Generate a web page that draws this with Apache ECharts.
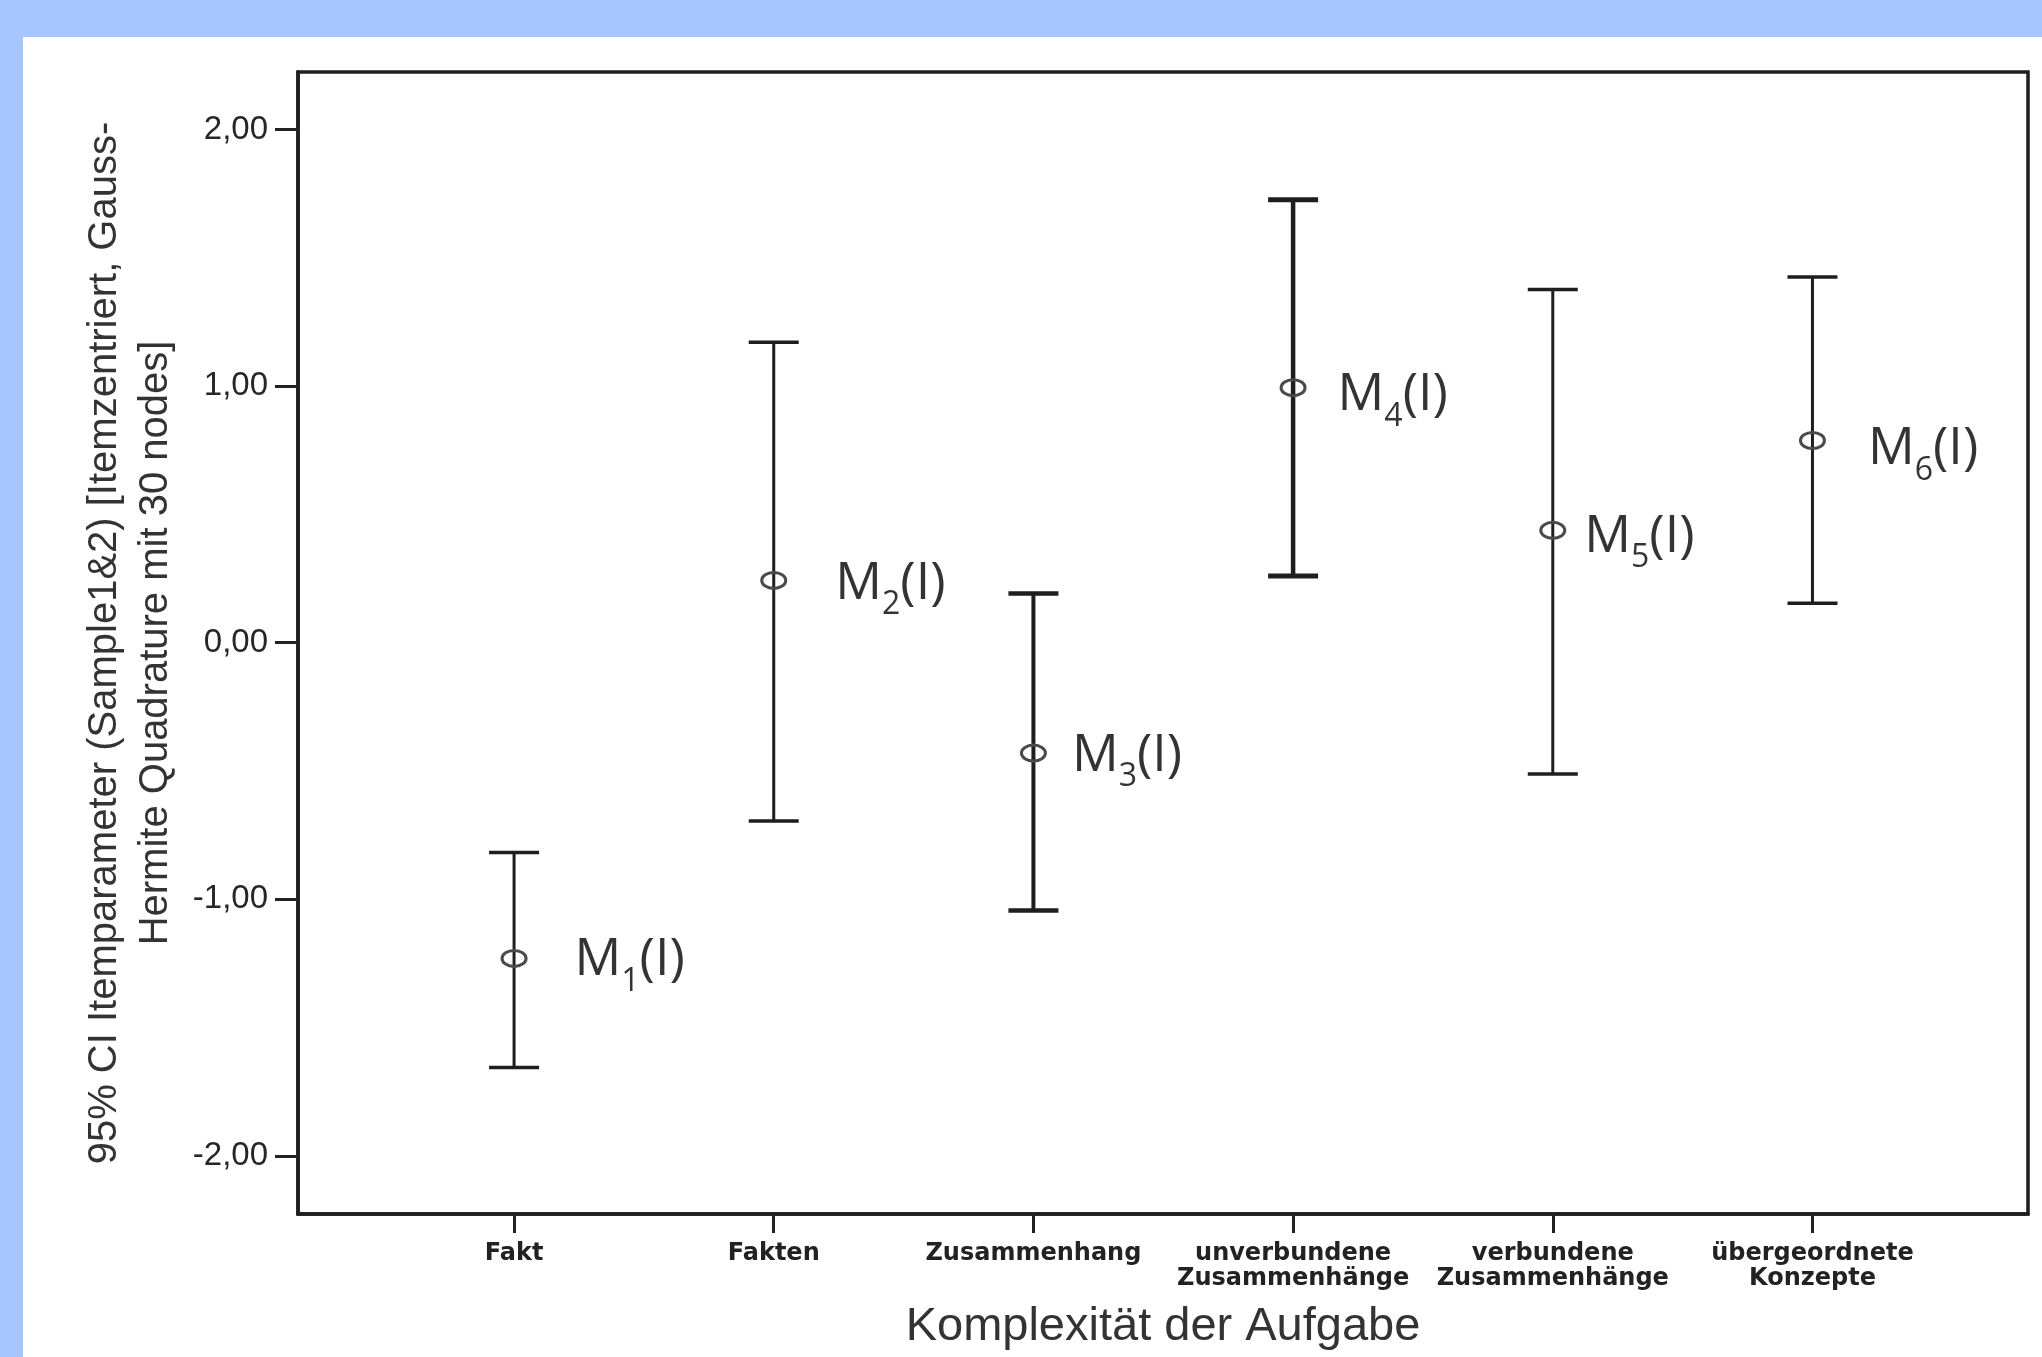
<!DOCTYPE html>
<html>
<head>
<meta charset="utf-8">
<script src="https://cdn.jsdelivr.net/npm/echarts@6/dist/echarts.min.js"></script>
<style>
html,body{margin:0;padding:0;background:#a6c7fd;width:2042px;height:1357px;overflow:hidden;}
#panel{position:absolute;left:23px;top:37px;right:0;bottom:0;background:#ffffff;}
#chart{position:absolute;left:0;top:0;width:2042px;height:1357px;}
</style>
</head>
<body>
<div id="panel"></div>
<div id="chart"></div>
<script>
// ---- data ----
const categories = ['Fakt', 'Fakten', 'Zusammenhang', 'unverbundene\nZusammenhänge', 'verbundene\nZusammenhänge', 'übergeordnete\nKonzepte'];
const meanValues  = [-1.230, 0.243, -0.430, 0.994, 0.438, 0.788];
const upperValues = [-0.817, 1.171,  0.192, 1.726, 1.376, 1.425];
const lowerValues = [-1.655, -0.695, -1.043, 0.260, -0.511, 0.154];
const pointSubscripts = ['1', '2', '3', '4', '5', '6'];
const yTickValues = [-2, -1, 0, 1, 2];
const yTickLabels = ['-2,00', '-1,00', '0,00', '1,00', '2,00'];
const xTickValues = [0, 1, 2, 3, 4, 5];

// ---- styles (not data) ----
const stemWidths = [3, 3, 4, 4.5, 3, 3];
const labelOffsets = [[60, 2], [61, 4], [38, 3], [44, 8], [31, 7], [55, 9]];

const chart = echarts.init(document.getElementById('chart'), null, {renderer: 'canvas'});

const errData = categories.map((c, i) => [xTickValues[i], lowerValues[i], upperValues[i], meanValues[i]]);

const option = {
  animation: false,
  backgroundColor: 'transparent',
  grid: {left: 298, right: 14, top: 72, bottom: 143, show: true, borderColor: '#1e1e1e', borderWidth: 3.5, backgroundColor: 'transparent'},
  xAxis: {
    type: 'value', min: -0.832, max: 5.83,
    splitLine: {show: false},
    axisLine: {show: true, onZero: false, lineStyle: {color: '#1e1e1e', width: 3.5}},
    axisTick: {show: true, customValues: xTickValues, length: 19, lineStyle: {color: '#222', width: 3}},
    axisLabel: {
      customValues: xTickValues,
      formatter: v => categories[Math.round(v)],
      margin: 27, fontFamily: 'DejaVu Sans', fontWeight: 'bold', fontSize: 24, lineHeight: 25, color: '#222'
    },
    name: 'Komplexität der Aufgabe', nameLocation: 'middle', nameGap: 90,
    nameTextStyle: {fontFamily: 'Liberation Sans', fontSize: 47, lineHeight: 47, color: '#333'}
  },
  yAxis: {
    type: 'value', min: -2.226, max: 2.224,
    splitLine: {show: false},
    axisLine: {show: true, onZero: false, lineStyle: {color: '#1e1e1e', width: 3.5}},
    axisTick: {show: true, customValues: yTickValues, length: 23, lineStyle: {color: '#222', width: 3}},
    axisLabel: {
      customValues: yTickValues,
      formatter: v => yTickLabels[yTickValues.indexOf(Math.round(v))],
      margin: 30, fontFamily: 'Liberation Sans', fontSize: 33, color: '#262626'
    },
    name: '95% CI Itemparameter (Sample1&2) [Itemzentriert, Gauss-\nHermite Quadrature mit 30 nodes]',
    nameLocation: 'middle', nameRotate: 90, nameGap: 113,
    nameTextStyle: {fontFamily: 'Liberation Sans', fontSize: 40, lineHeight: 51, color: '#333', align: 'center'}
  },
  series: [
    {
      type: 'custom',
      data: errData,
      silent: true,
      renderItem: function (params, api) {
        const i = params.dataIndex;
        const x = api.value(0);
        const lo = api.coord([x, api.value(1)]);
        const hi = api.coord([x, api.value(2)]);
        const mid = api.coord([x, api.value(3)]);
        const w = stemWidths[i];
        const cap = 25;
        const stroke = '#1e1e1e';
        return {
          type: 'group',
          children: [
            {type: 'line', shape: {x1: hi[0], y1: hi[1], x2: lo[0], y2: lo[1]}, style: {stroke: stroke, lineWidth: w}},
            {type: 'line', shape: {x1: hi[0] - cap, y1: hi[1], x2: hi[0] + cap, y2: hi[1]}, style: {stroke: stroke, lineWidth: w + 0.5}},
            {type: 'line', shape: {x1: lo[0] - cap, y1: lo[1], x2: lo[0] + cap, y2: lo[1]}, style: {stroke: stroke, lineWidth: w + 0.5}},
            {type: 'ellipse', shape: {cx: mid[0], cy: mid[1], rx: 12, ry: 8}, style: {fill: 'none', stroke: '#4a4a4a', lineWidth: 3}}
          ]
        };
      }
    },
    {
      type: 'scatter',
      silent: true,
      symbolSize: 1,
      itemStyle: {color: 'rgba(0,0,0,0)'},
      data: meanValues.map((v, i) => ({value: [xTickValues[i], v], label: {offset: labelOffsets[i]}})),
      label: {
        show: true, position: 'right', distance: 0, color: '#000',
        formatter: p => '{m|M}{s|' + pointSubscripts[p.dataIndex] + '}{m|(I)}',
        rich: {
          m: {fontFamily: 'Open Sans', fontSize: 52, lineHeight: 74, color: '#000'},
          s: {fontFamily: 'Open Sans', fontSize: 32, lineHeight: 32, verticalAlign: 'bottom', color: '#000'}
        }
      }
    }
  ]
};
chart.setOption(option);
</script>
</body>
</html>
